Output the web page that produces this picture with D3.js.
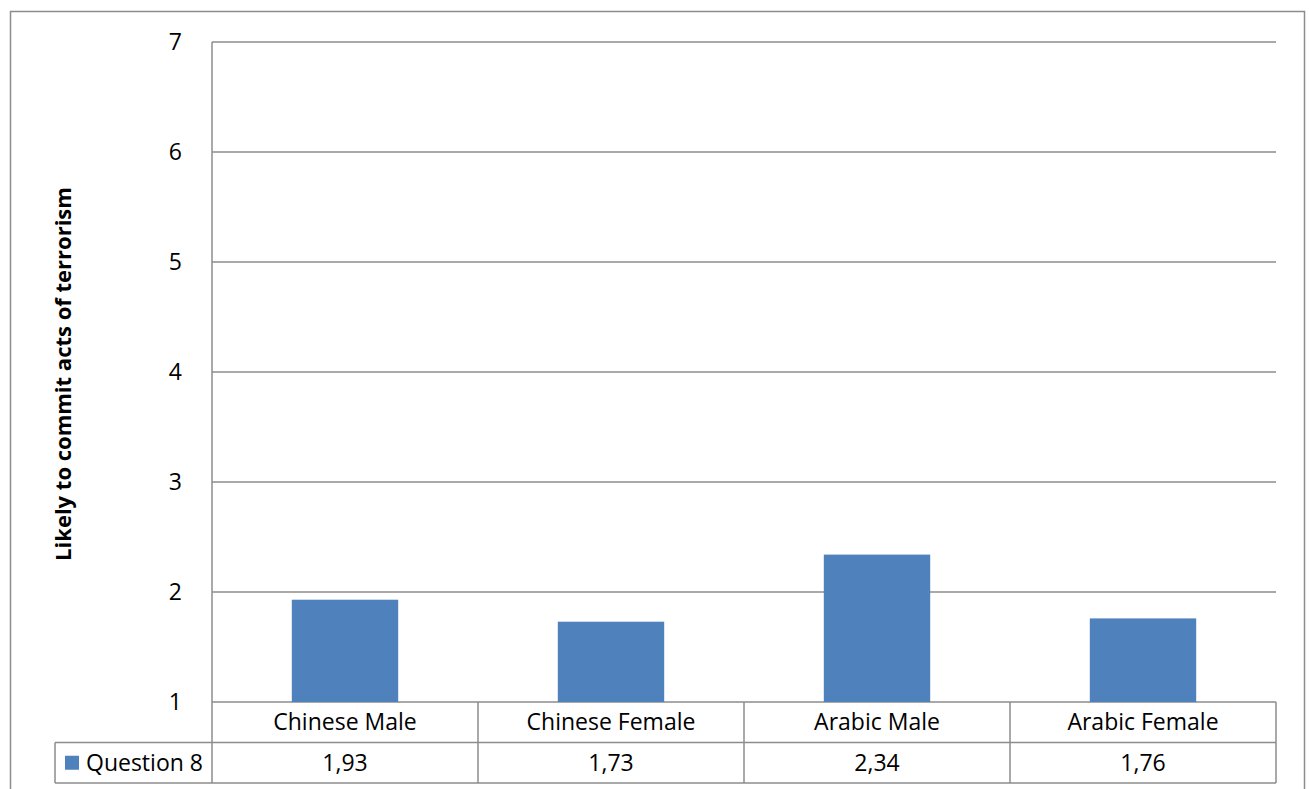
<!DOCTYPE html>
<html>
<head>
<meta charset="utf-8">
<script src="https://cdn.jsdelivr.net/npm/d3@7"></script>
<style>
  html, body { margin: 0; padding: 0; background: #fff; }
  svg { display: block; font-family: "Open Sans", Lato, sans-serif; }
</style>
</head>
<body>
<svg id="chart" width="1309" height="789"></svg>
<script>
// Mean ratings per group
const categories = ["Chinese Male", "Chinese Female", "Arabic Male", "Arabic Female"];
const values = [1.93, 1.73, 2.34, 1.76];
const valueLabels = ["1,93", "1,73", "2,34", "1,76"];
const yTicks = [1, 2, 3, 4, 5, 6, 7];
const seriesName = "Question 8";
const yTitle = "Likely to commit acts of terrorism";

const svg = d3.select("#chart");
const lineColor = "#8c8c8c";
const barColor = "#4f81bd";
const fontSize = 23;

const plot = { left: 212, right: 1276, top: 42, bottom: 702 };
const rowH = 40.5;
const legendLeft = 55;

// outer chart frame
svg.append("rect")
  .attr("x", 10.5).attr("y", 11.5)
  .attr("width", 1294).attr("height", 800)
  .attr("fill", "none").attr("stroke", lineColor).attr("stroke-width", 1.5);

const x = d3.scaleBand().domain(categories)
  .range([plot.left, plot.right]).paddingInner(0.6).paddingOuter(0.3);
const xCell = d3.scaleBand().domain(categories).range([plot.left, plot.right]);
const y = d3.scaleLinear().domain([1, 7]).range([plot.bottom, plot.top]);

// horizontal gridlines
svg.append("g").selectAll("line").data(yTicks).join("line")
  .attr("x1", plot.left).attr("x2", plot.right)
  .attr("y1", d => y(d)).attr("y2", d => y(d))
  .attr("stroke", lineColor).attr("stroke-width", 1.5);

// y axis line
svg.append("line")
  .attr("x1", plot.left).attr("x2", plot.left)
  .attr("y1", plot.top).attr("y2", plot.bottom + 2 * rowH)
  .attr("stroke", lineColor).attr("stroke-width", 1.5);

// y tick labels
svg.append("g").selectAll("text").data(yTicks).join("text")
  .attr("x", 182).attr("y", d => y(d))
  .attr("dy", "0.35em").attr("text-anchor", "end")
  .attr("font-size", fontSize).attr("fill", "#000")
  .text(d => d);

// bars
svg.append("g").selectAll("rect").data(values).join("rect")
  .attr("x", (d, i) => x(categories[i]))
  .attr("width", x.bandwidth())
  .attr("y", d => y(d))
  .attr("height", d => y(1) - y(d))
  .attr("fill", barColor);

// data table
const table = svg.append("g");
[plot.bottom + rowH, plot.bottom + 2 * rowH].forEach(yy => {
  table.append("line")
    .attr("x1", legendLeft).attr("x2", plot.right)
    .attr("y1", yy).attr("y2", yy)
    .attr("stroke", lineColor).attr("stroke-width", 1.5);
});
// vertical cell borders
categories.forEach(c => {
  table.append("line")
    .attr("x1", xCell(c) + xCell.bandwidth()).attr("x2", xCell(c) + xCell.bandwidth())
    .attr("y1", plot.bottom).attr("y2", plot.bottom + 2 * rowH)
    .attr("stroke", lineColor).attr("stroke-width", 1.5);
});
table.append("line")
  .attr("x1", legendLeft).attr("x2", legendLeft)
  .attr("y1", plot.bottom + rowH).attr("y2", plot.bottom + 2 * rowH)
  .attr("stroke", lineColor).attr("stroke-width", 1.5);

// category labels
table.selectAll("text.cat").data(categories).join("text")
  .attr("class", "cat")
  .attr("x", d => xCell(d) + xCell.bandwidth() / 2)
  .attr("y", plot.bottom + rowH / 2)
  .attr("dy", "0.35em").attr("text-anchor", "middle")
  .attr("font-size", fontSize).text(d => d);

// value labels
table.selectAll("text.val").data(valueLabels).join("text")
  .attr("class", "val")
  .attr("x", (d, i) => xCell(categories[i]) + xCell.bandwidth() / 2)
  .attr("y", plot.bottom + rowH * 1.5)
  .attr("dy", "0.35em").attr("text-anchor", "middle")
  .attr("font-size", fontSize).text(d => d);

// legend key
table.append("rect")
  .attr("x", 65).attr("y", plot.bottom + rowH * 1.5 - 7)
  .attr("width", 14).attr("height", 14).attr("fill", barColor);
table.append("text")
  .attr("x", 86).attr("y", plot.bottom + rowH * 1.5)
  .attr("dy", "0.35em").attr("font-size", fontSize).text(seriesName);

// y axis title
svg.append("text")
  .attr("transform", `translate(71, ${(plot.top + plot.bottom) / 2 + 2}) rotate(-90)`)
  .attr("text-anchor", "middle")
  .attr("font-size", 22).attr("font-weight", "bold")
  .text(yTitle);
</script>
</body>
</html>
